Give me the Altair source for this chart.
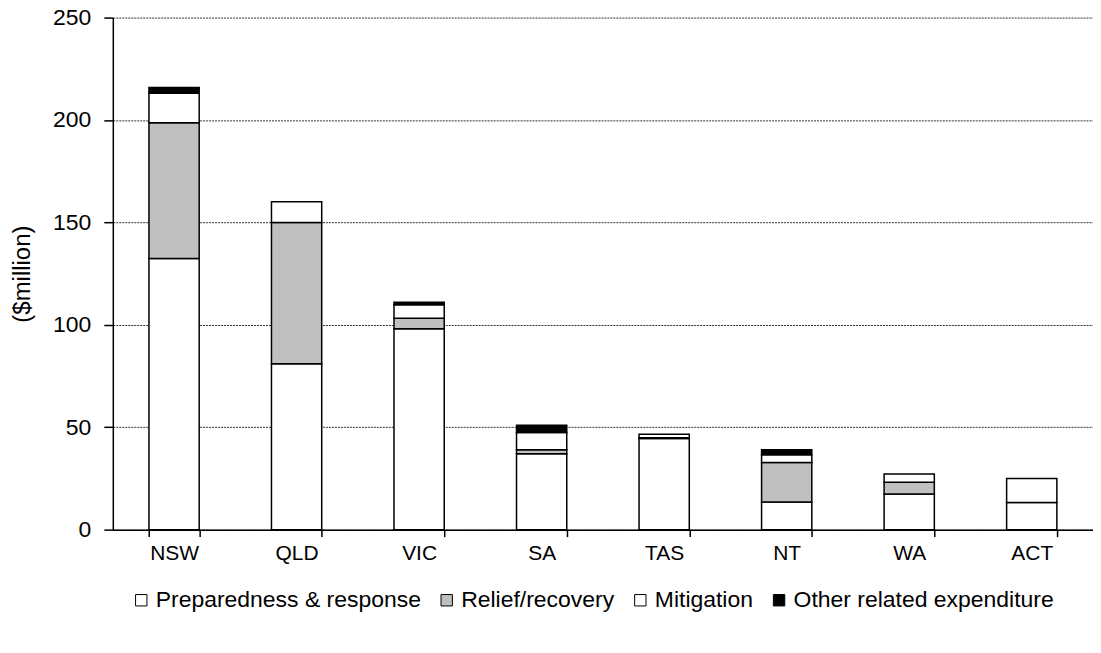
import altair as alt
import pandas as pd

states = ["NSW", "QLD", "VIC", "SA", "TAS", "NT", "WA", "ACT"]
series = ["Preparedness & response", "Relief/recovery", "Mitigation", "Other related expenditure"]
prep = [132.4, 81.0, 98.1, 37.0, 44.5, 13.5, 17.4, 13.3]
relief = [66.3, 68.9, 5.1, 2.0, 0.3, 19.3, 5.7, 0.0]
mitig = [14.4, 10.2, 6.6, 8.4, 1.8, 3.7, 4.0, 11.7]
other = [2.8, 0.0, 1.2, 3.6, 0.0, 2.5, 0.0, 0.0]
colors = ["#ffffff", "#c0c0c0", "#ffffff", "#000000"]

rows = []
for i, s in enumerate(states):
    for k, (name, vals) in enumerate(zip(series, [prep, relief, mitig, other])):
        if vals[i] > 0:
            rows.append({"state": s, "series": name, "order": k, "value": vals[i]})
df = pd.DataFrame(rows)

FONT = "Liberation Sans"

chart = alt.Chart(df).mark_bar(stroke="black", strokeWidth=1.5).encode(
    x=alt.X("state:N", sort=states,
            scale=alt.Scale(paddingInner=0.59, paddingOuter=0.295),
            axis=alt.Axis(title=None, labelAngle=0, tickBand="extent", tickSize=7,
                          labelPadding=6, labelFontSize=21, labelFont=FONT,
                          labelColor="black", domainColor="black", tickColor="black",
                          domainWidth=1.5, tickWidth=1.5)),
    y=alt.Y("value:Q", stack="zero",
            scale=alt.Scale(domain=[0, 250], nice=False),
            axis=alt.Axis(title="($million)", values=[0, 50, 100, 150, 200, 250],
                          tickSize=9, labelPadding=13, labelFontSize=23, labelFont=FONT,
                          labelColor="black", titleFont=FONT, titleFontSize=24,
                          titleFontWeight="normal", titleColor="black", titlePadding=18,
                          domainColor="black", tickColor="black", domainWidth=1.5,
                          tickWidth=1.5, grid=True, gridColor="#333333",
                          gridDash=[2, 1], gridWidth=1)),
    color=alt.Color("series:N", sort=series,
                    scale=alt.Scale(domain=series, range=colors),
                    legend=alt.Legend(title=None, orient="none", direction="horizontal",
                                      legendX=17, legendY=572, symbolType="square",
                                      symbolSize=130, symbolStrokeColor="black",
                                      symbolStrokeWidth=1, labelFontSize=23,
                                      labelFont=FONT, labelColor="black", labelLimit=0,
                                      columnPadding=14, labelOffset=3)),
    order=alt.Order("order:Q", sort="ascending"),
).properties(
    width=982, height=513,
    autosize=alt.AutoSizeParams(type="none"),
    padding={"left": 105, "top": 9, "right": 0, "bottom": 120},
).configure_view(stroke=None).configure_axis(grid=False)

chart.save("out.html", embed_options={"renderer": "svg", "actions": False})
